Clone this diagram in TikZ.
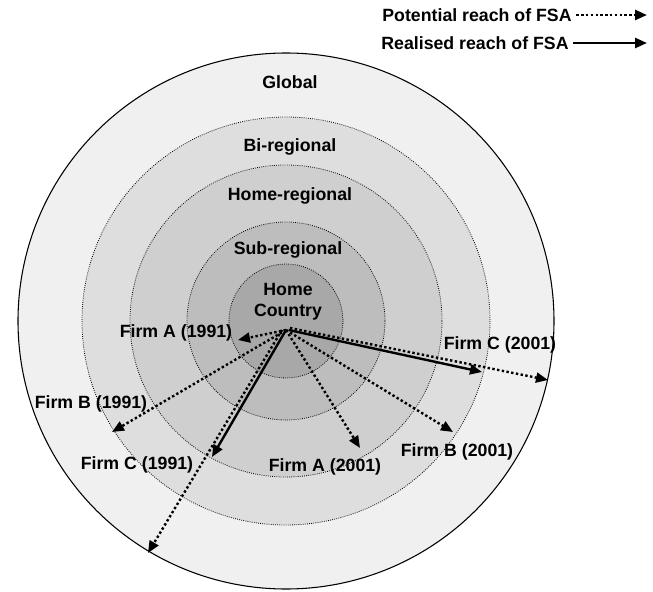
\documentclass[tikz,border=0pt]{standalone}
\usepackage{fontspec}
\setmainfont{Liberation Sans}
\usetikzlibrary{arrows.meta}

\begin{document}
\begin{tikzpicture}[x=0.75pt,y=-0.75pt,
    font=\bfseries\fontsize{13.3}{15.5}\selectfont,
    ring/.style={draw=black,densely dotted,line width=0.6pt,fill=#1},
    realised/.style={line width=1.8pt,-{Triangle[length=9pt,width=7.5pt]}},
    potential/.style={line width=1.8pt,dash pattern=on 1.8pt off 1.8pt,
      -{Triangle[length=9pt,width=7.5pt]}}]
  \useasboundingbox (0,0) rectangle (653,592);

  % rings
  \coordinate (C) at (286,321);
  \draw[line width=0.8pt,fill=black!6] (C) circle [radius=268];
  \draw[ring=black!13] (C) circle [radius=204];
  \draw[ring=black!19] (C) circle [radius=156];
  \draw[ring=black!26] (C) circle [radius=99];
  \draw[ring=black!34] (C) circle [radius=57];

  \node (global) at (290,82) {Global};
  \node (bireg) at (290,147) {Bi-regional};
  \node (homereg) at (290,196) {Home-regional};
  \node (subreg) at (288,250) {Sub-regional};
  \node[align=center,inner sep=1pt] (home) at (288,302) {Home\\Country};

  % reach of the firms
  \coordinate (O) at (286,330);
  \coordinate (A91) at (238,340);
  \coordinate (B91) at (112,432);
  \coordinate (C91r) at (212,457);
  \coordinate (C91p) at (148,553);
  \coordinate (A01) at (360,448);
  \coordinate (B01) at (453,432);
  \coordinate (C01r) at (482,372);
  \coordinate (C01p) at (548,380);

  \draw[potential] (O) -- (A91);
  \draw[potential] (O) -- (B91);
  \draw[potential] ([xshift=-3pt]O) -- (C91p);
  \draw[realised] (O) -- (C91r);
  \draw[potential] (O) -- (A01);
  \draw[potential] (O) -- (B01);
  \draw[potential] ([xshift=3pt,yshift=1.5pt]O) -- (C01p);
  \draw[realised] ([xshift=2pt]O) -- (C01r);

  \node (firmA91) at (176,333) {Firm A (1991)};
  \node (firmB91) at (91,404) {Firm B (1991)};
  \node (firmC91) at (137,465) {Firm C (1991)};
  \node (firmA01) at (325,467) {Firm A (2001)};
  \node (firmB01) at (457,452) {Firm B (2001)};
  \node (firmC01) at (500,345) {Firm C (2001)};

  % legend
  \node (potlbl) at (477,15) {Potential reach of FSA};
  \coordinate (potend) at (647,15);
  \draw[potential] (potlbl.east) -- (potend);
  \node (reallbl) at (475,43) {Realised reach of FSA};
  \coordinate (realend) at (647,43);
  \draw[realised] (reallbl.east) -- (realend);
\end{tikzpicture}
\end{document}
